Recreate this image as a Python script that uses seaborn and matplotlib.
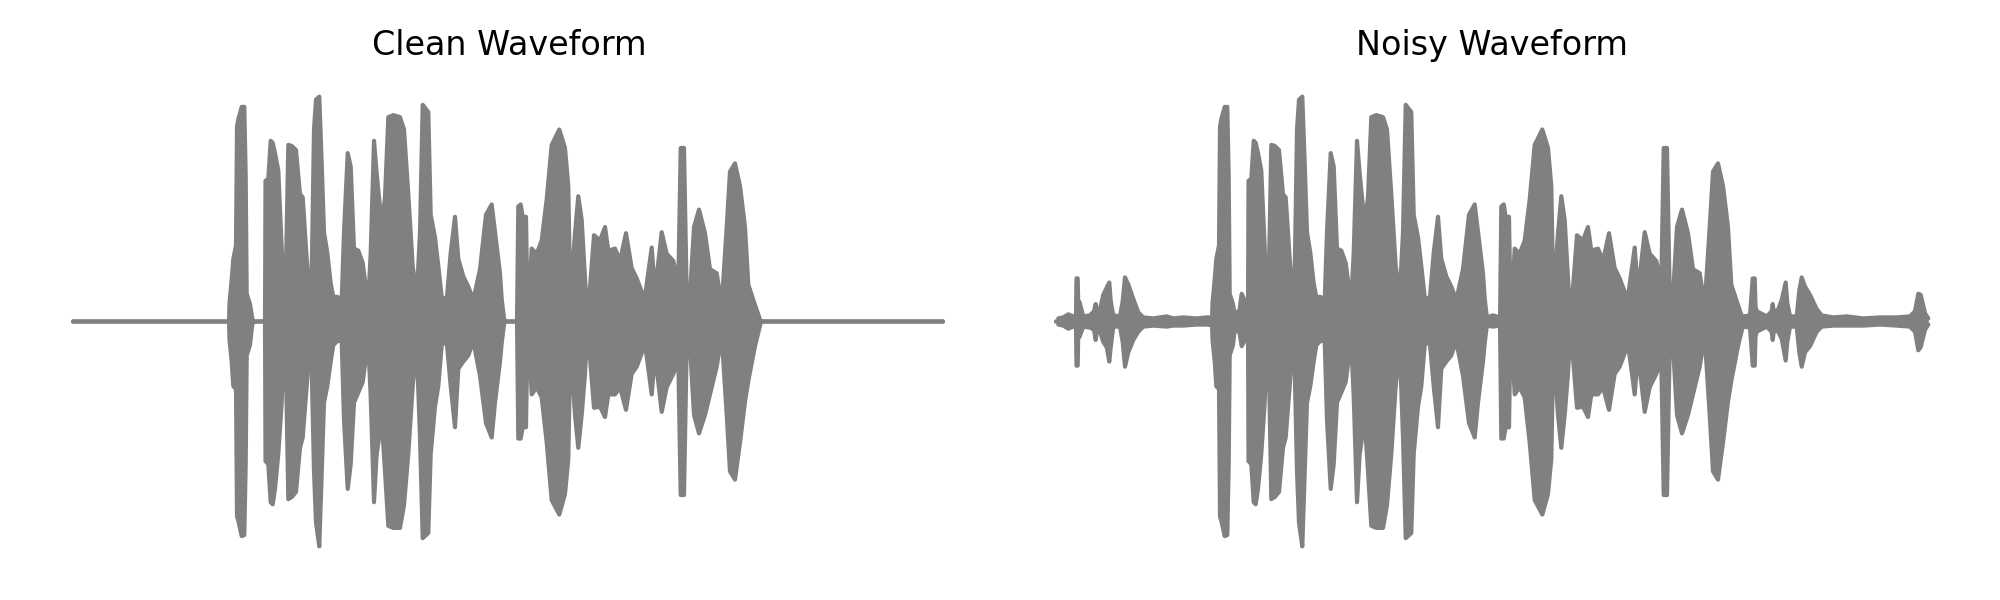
import matplotlib

matplotlib.use("Agg")
import matplotlib.pyplot as plt
import numpy as np
import pandas as pd
import seaborn as sns

# ---------------------------------------------------------------------------
# data: envelope of the speech clip
# t = time index along the clip (0 .. 872), amplitudes in read units (220 = peak)
# ---------------------------------------------------------------------------
clean_t = [
    0, 156, 156.5, 158.7, 160.3, 163, 164, 165.3, 168.7, 171.3, 172.7, 173.7, 177, 179, 180,
    192, 192.5, 195.3, 197.7, 199.7, 202, 205.3, 208.7, 211,
    213, 215.3, 218.7, 223, 227, 229.7, 233.7, 237,
    238.7, 241, 243, 246.3, 248.7, 251, 254.3, 257.7, 260.3, 264.3, 268.7,
    271, 274.7, 277.7, 281, 285.3, 289.7, 293.7, 295.3,
    297.7, 301, 303.7, 308.7, 312, 315.3, 320.3, 327, 331, 335.3, 339.7, 343.7,
    347, 349.7, 355.3, 357.7, 362, 365.3, 368.7,
    373.7, 377.7, 382, 385.3, 390.3, 395.3, 400.3,
    407, 413, 418.7, 422, 427, 428.7, 431, 432,
    444, 445.3, 447.7, 449.7, 453, 454.3,
    456.3, 458.7, 463.7, 468.7, 473.7, 478.7, 486.3, 492, 495.3, 497.3,
    502, 505.3, 508.7, 512, 514.7,
    517.7, 521, 527, 532, 535.3, 542, 547, 553, 558.7, 563.7, 568.7, 570.3,
    573.7, 578.7, 582, 588.7, 593.7, 600.3, 605.3,
    607.7, 611, 613.7,
    617, 621, 626, 632, 637, 643.7, 648.7,
    653.7, 657, 662, 667, 672, 675.3, 682, 687, 688, 870,
]
clean_upper = [
    0, 0, 18, 41, 61, 74, 190, 197, 209, 209, 141, 27, 17, 5, 0,
    0, 137, 139, 176, 174, 164, 147, 71, 21,
    54, 172, 171, 167, 124, 121, 61, 24,
    47, 187, 216, 219, 154, 87, 67, 37, 24, 24, 21,
    87, 164, 151, 71, 69, 57, 27, 21,
    67, 176, 144, 94, 121, 199, 201, 199, 187, 124, 54, 24,
    87, 211, 204, 104, 82, 54, 24,
    21, 67, 102, 61, 44, 34, 21,
    51, 104, 114, 87, 47, 22, 3, 0,
    0, 112, 114, 102, 102, 26,
    26, 71, 66, 79, 119, 172, 187, 169, 132, 22,
    86, 122, 99, 42, 2,
    42, 84, 79, 92, 69, 71, 59, 86, 52, 42, 29, 12,
    36, 72, 29, 87, 66, 59, 36,
    169, 169, 26,
    26, 92, 109, 86, 51, 47, 16,
    92, 146, 154, 132, 92, 36, 16, 2, 0, 0,
]
clean_lower = [
    0, 0, 18, 39, 63, 66, 190, 194, 209, 208, 139, 33, 23, 5, 0,
    0, 136, 139, 176, 178, 163, 129, 79, 19,
    46, 173, 171, 166, 123, 113, 63, 16,
    46, 146, 196, 219, 146, 79, 63, 39, 23, 19, 19,
    96, 163, 139, 79, 69, 59, 29, 23,
    73, 176, 129, 96, 146, 199, 201, 201, 179, 129, 63, 23,
    113, 211, 206, 129, 83, 63, 23,
    19, 63, 103, 46, 39, 33, 19,
    53, 99, 113, 79, 39, 21, 3, 0,
    0, 114, 114, 103, 103, 24,
    24, 71, 64, 74, 118, 174, 188, 168, 134, 24,
    91, 123, 91, 51, 4,
    44, 84, 83, 93, 71, 71, 64, 86, 51, 44, 31, 14,
    34, 71, 31, 88, 64, 51, 38,
    169, 169, 24,
    24, 91, 109, 91, 71, 44, 14,
    91, 146, 154, 118, 78, 58, 24, 4, 0, 0,
]

# extra background noise that only shows in the noisy recording
noise_t = [
    2.3, 7.3, 12.3, 17.3, 20.0, 20.5, 21.7, 22.2, 23.5, 27.3, 34, 38, 39.7, 40.7, 44,
    47.3, 50.7, 53.3, 54.7, 57.3, 64, 66.7, 69, 72.3, 77.3, 82.3, 87.3, 97.3, 110.7,
    117.3, 127.3, 140.7, 150.7, 157.3, 183.3, 185.7, 188, 192.3, 250, 350, 431, 437,
    444, 520, 600, 687.3, 694, 696.7, 698.7, 699.5, 700.7, 710.7, 715.7, 716.7, 718,
    722.3, 725.7, 729.7, 731.3, 734, 740.7, 743.3, 745.7, 749, 754, 760.7, 765.7,
    777.3, 790.7, 807.3, 824, 840.7, 854, 859, 862.3, 864.7, 869, 872.3,
]
noise_upper = [
    3, 4, 7, 5, 5, 42, 42, 18, 19, 5, 6, 10, 17, 10, 12,
    26, 33, 38, 20, 6, 5, 20, 43, 36, 22, 9, 4, 3, 5,
    3, 4, 3, 4, 4, 10, 27, 22, 8, 4, 4, 4, 6,
    4, 4, 4, 5, 6, 42, 42, 15, 10, 5, 10, 17, 8,
    12, 21, 38, 18, 5, 5, 30, 43, 34, 26, 12, 6,
    4, 5, 3, 4, 4, 5, 10, 27, 26, 8, 3,
]
noise_lower = [
    3, 4, 7, 5, 5, 43, 43, 15, 15, 5, 6, 8, 18, 10, 10,
    20, 25, 39, 25, 5, 5, 20, 44, 30, 18, 10, 5, 4, 5,
    4, 4, 3, 3, 4, 10, 24, 20, 8, 4, 4, 4, 5,
    4, 4, 4, 5, 6, 43, 43, 15, 10, 5, 10, 18, 8,
    10, 17, 38, 20, 5, 5, 30, 44, 30, 24, 10, 5,
    4, 4, 4, 3, 4, 5, 10, 28, 25, 8, 3,
]

titles = ["Clean Waveform", "Noisy Waveform"]

AMP_SCALE = 220.0
T_END = 872
WAVE_COLOR = "#808080"

sns.set_theme(style="white")
plt.rcParams["font.family"] = ["DejaVu Sans"]


def draw_envelope(ax, t, upper, lower):
    df = pd.DataFrame(
        {
            "t": t,
            "upper": np.asarray(upper, dtype=float) / AMP_SCALE,
            "lower": -np.asarray(lower, dtype=float) / AMP_SCALE,
        }
    )
    ax.fill_between(df["t"], df["lower"], df["upper"], color=WAVE_COLOR, linewidth=0)
    for col in ["upper", "lower"]:
        sns.lineplot(
            data=df, x="t", y=col, ax=ax, color=WAVE_COLOR, linewidth=1.5,
            estimator=None, sort=False, solid_capstyle="round", clip_on=False,
        )


fig = plt.figure(figsize=(10, 3), dpi=200)
ax_clean = fig.add_axes([73 / 2000, 30 / 600, 872 / 2000, 497 / 600])
ax_noisy = fig.add_axes([1056 / 2000, 30 / 600, 872 / 2000, 497 / 600])

draw_envelope(ax_clean, clean_t, clean_upper, clean_lower)
draw_envelope(ax_noisy, clean_t, clean_upper, clean_lower)
draw_envelope(ax_noisy, noise_t, noise_upper, noise_lower)

for ax, title in zip([ax_clean, ax_noisy], titles):
    ax.set_xlim(0, T_END)
    ax.set_ylim(-1.1, 1.1)
    ax.set_title(title, fontsize=12, color="black", pad=6.5)
    ax.axis("off")

fig.savefig("out.png", dpi=200)
